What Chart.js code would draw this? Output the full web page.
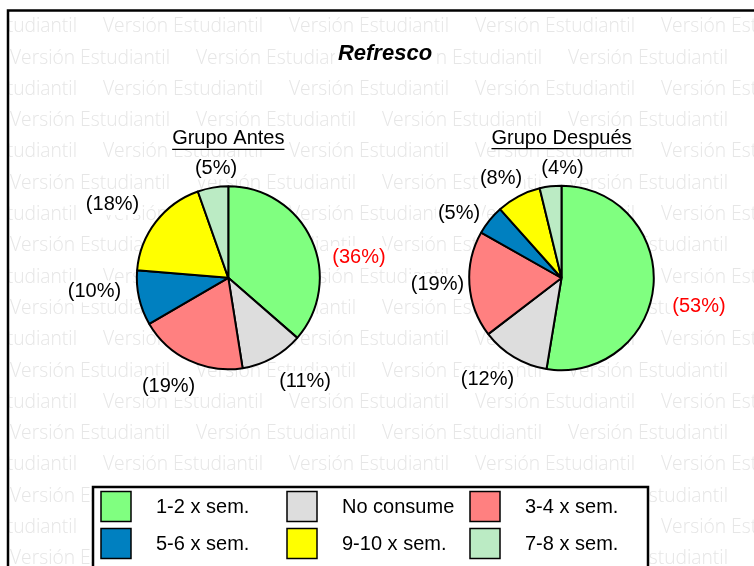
<!DOCTYPE html>
<html><head><meta charset="utf-8">
<script src="https://cdn.jsdelivr.net/npm/chart.js@4.4.0/dist/chart.umd.min.js"></script>
<style>
html,body{margin:0;padding:0;background:#fff;}
#wrap{position:relative;width:754px;height:566px;overflow:hidden;}
canvas{position:absolute;left:0;top:0;}
</style></head><body>
<div id="wrap"><canvas id="a" width="754" height="566"></canvas><canvas id="b" width="754" height="566"></canvas></div>
<script>
// ---- data ----
const categories = ['1-2 x sem.', 'No consume', '3-4 x sem.', '5-6 x sem.', '9-10 x sem.', '7-8 x sem.'];
const antesValues = [36.4, 11.1, 19.1, 9.7, 18.3, 5.4];
const despuesValues = [52.6, 12.0, 18.6, 5.2, 7.8, 3.8];
const sliceColors = ['#80FF80', '#DDDDDD', '#FF8080', '#0080C0', '#FFFF00', '#BBEBC4'];
const chartTitle = 'Refresco';
const groupTitles = ['Grupo Antes', 'Grupo Después'];
const watermarkText = 'Versión Estudiantil';

// ---- label layout (angle clockwise from top, distance as multiple of radius) ----
const antesLabelAngle = [81, 143.6, 208.8, 264.2, 302.5, 353.6];
const antesLabelDist = [1.446, 1.414, 1.355, 1.47, 1.5, 1.202];
const despuesLabelAngle = [101.7, 216, 266.8, 302.2, 328.7, 0.5];
const despuesLabelDist = [1.521, 1.365, 1.346, 1.312, 1.261, 1.186];

const FONT = '"Liberation Sans", Arial, sans-serif';

function drawWatermark(ctx) {
  ctx.save();
  ctx.fillStyle = '#fff';
  ctx.fillRect(0, 0, 754, 566);
  ctx.beginPath(); ctx.rect(9, 12, 745, 554); ctx.clip();
  ctx.fillStyle = '#e6e6e6';
  ctx.font = '300 20px "Open Sans", "Noto Sans", sans-serif';
  ctx.textBaseline = 'middle';
  ctx.textAlign = 'left';
  const w = ctx.measureText(watermarkText).width;
  const sx = 160 / w;
  for (let k = 0; k < 19; k++) {
    const y = 26.5 + k * 31.3;
    const x0 = (k % 2 === 0) ? -83 : 10;
    for (let x = x0; x < 754; x += 186) {
      ctx.save(); ctx.translate(x, y); ctx.scale(sx, 1);
      ctx.fillText(watermarkText, 0, 0);
      ctx.restore();
    }
  }
  ctx.restore();
  // frame
  ctx.save();
  ctx.strokeStyle = '#000'; ctx.lineWidth = 2.5;
  ctx.beginPath(); ctx.moveTo(8, 570); ctx.lineTo(8, 10.5); ctx.lineTo(760, 10.5); ctx.stroke();
  ctx.restore();
}

function whiteText(ctx, text, x, y, color, font) {
  ctx.font = font;
  const w = ctx.measureText(text).width;
  ctx.fillStyle = '#fff';
  ctx.fillRect(x - w / 2 - 2, y - 11, w + 4, 22);
  ctx.fillStyle = color;
  ctx.textAlign = 'center'; ctx.textBaseline = 'middle';
  ctx.fillText(text, x, y);
  return w;
}

const pieLabels = {
  id: 'pieLabels',
  afterDatasetsDraw(chart, args, opts) {
    const ctx = chart.ctx;
    const meta = chart.getDatasetMeta(0);
    const vals = chart.data.datasets[0].data;
    const arc0 = meta.data[0];
    const cx = arc0.x, cy = arc0.y, r = arc0.outerRadius;
    const maxIdx = vals.indexOf(Math.max(...vals));
    ctx.save();
    vals.forEach((v, i) => {
      const a = opts.angles[i] * Math.PI / 180;
      const d = opts.dists[i] * r;
      const x = cx + Math.sin(a) * d, y = cy - Math.cos(a) * d;
      whiteText(ctx, '(' + Math.round(v) + '%)', x, y, i === maxIdx ? '#FF0000' : '#000', '20px ' + FONT);
    });
    // group subtitle, underlined
    const sy = cy - r - 47.5;
    const w = whiteText(ctx, opts.title, cx, sy, '#000', '20px ' + FONT);
    ctx.strokeStyle = '#000'; ctx.lineWidth = 1.3;
    ctx.beginPath(); ctx.moveTo(cx - w / 2, sy + 10.5); ctx.lineTo(cx + w / 2, sy + 10.5); ctx.stroke();
    ctx.restore();
  }
};

const background = {
  id: 'background',
  beforeDraw(chart) { drawWatermark(chart.ctx); },
  afterDraw(chart) {
    const ctx = chart.ctx;
    ctx.save();
    // title
    ctx.font = 'italic bold 22px ' + FONT;
    const tw = ctx.measureText(chartTitle).width;
    ctx.fillStyle = '#fff';
    ctx.fillRect(385 - tw / 2 - 3, 41, tw + 6, 25);
    ctx.fillStyle = '#000'; ctx.textAlign = 'center'; ctx.textBaseline = 'middle';
    ctx.fillText(chartTitle, 385, 53.5);
    // legend
    ctx.fillStyle = '#fff';
    ctx.fillRect(93, 487, 555, 100);
    ctx.strokeStyle = '#000'; ctx.lineWidth = 2.5;
    ctx.strokeRect(93, 487, 555, 100);
    const colX = [101, 287, 470];
    const rowY = [491.5, 528.5];
    ctx.font = '20px ' + FONT; ctx.textAlign = 'left'; ctx.textBaseline = 'middle';
    categories.forEach((c, i) => {
      const x = colX[i % 3], y = rowY[Math.floor(i / 3)];
      ctx.fillStyle = sliceColors[i];
      ctx.fillRect(x, y, 30, 30);
      ctx.strokeStyle = '#000'; ctx.lineWidth = 1.5;
      ctx.strokeRect(x, y, 30, 30);
      ctx.fillStyle = '#000';
      ctx.fillText(c, x + 55, y + 16);
    });
    ctx.restore();
  }
};

function makePie(id, values, padding, plugins, labelOpts) {
  return new Chart(document.getElementById(id), {
    type: 'pie',
    data: {
      labels: categories,
      datasets: [{ data: values, backgroundColor: sliceColors, borderColor: '#000', borderWidth: 2 }]
    },
    options: {
      responsive: false, animation: false, events: [],
      layout: { padding: padding },
      plugins: { legend: { display: false }, tooltip: { enabled: false }, pieLabels: labelOpts }
    },
    plugins: plugins
  });
}

makePie('a', antesValues, { left: 135.8, top: 185.3, right: 433.2, bottom: 195.7 }, [background, pieLabels],
  { angles: antesLabelAngle, dists: antesLabelDist, title: groupTitles[0] });
makePie('b', despuesValues, { left: 468.2, top: 184.7, right: 99.2, bottom: 194.7 }, [pieLabels],
  { angles: despuesLabelAngle, dists: despuesLabelDist, title: groupTitles[1] });
</script>
</body></html>
